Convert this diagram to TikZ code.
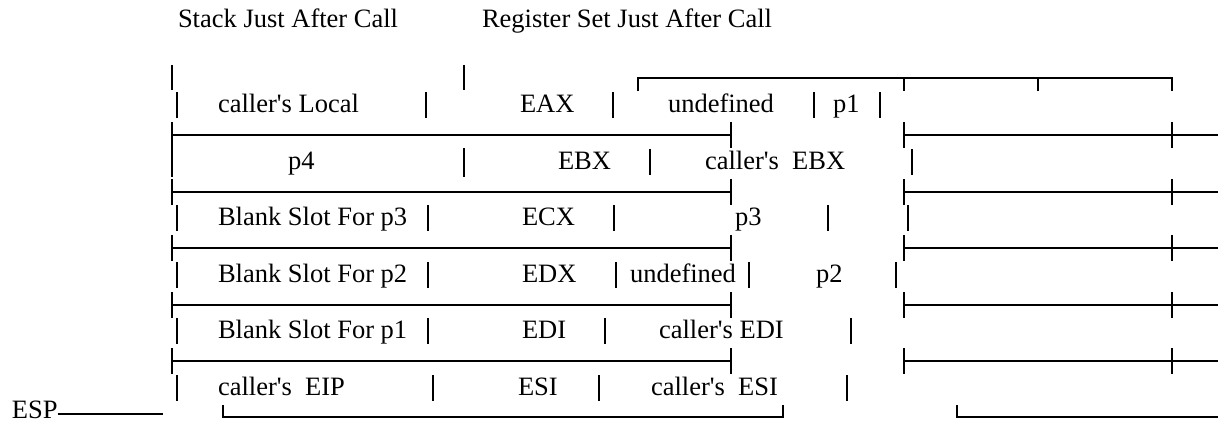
\documentclass[tikz,border=0pt]{standalone}
\usepackage{fontspec}
\setmainfont{Liberation Serif}[Ligatures=TeXOff]
\tikzset{
  txt/.style={anchor=base west, inner sep=0pt, outer sep=0pt, font=\fontsize{26.5}{30}\selectfont, text=black},
  rule/.style={line width=1.3pt, black},
  barl/.style={line width=1.3pt, black},
}
\newcommand\vb[2]{\draw[barl] (#1,{#2-20}) -- (#1,{#2+6});}
\newcommand\hl[1]{%
  \draw[rule] (172,#1) -- (731,#1);
  \draw[rule] (172,{#1-13}) -- (172,{#1+13});
  \draw[rule] (731,{#1-13}) -- (731,{#1+13});
  \draw[rule] (904,#1) -- (1218,#1);
  \draw[rule] (904,{#1-13}) -- (904,{#1+13});
  \draw[rule] (1172,{#1-13}) -- (1172,{#1+13});
}
\begin{document}
\begin{tikzpicture}[x=1pt,y=-1pt]
\useasboundingbox[fill=white] (0,0) rectangle (1218,428);
% titles
\node[txt] (t1) at (178,28) {Stack Just After Call};
\node[txt] (t2) at (482,28) {Register Set Just After Call};
% top bars and top bracket
\draw[barl] (172,65) -- (172,90);
\draw[barl] (464,65) -- (464,90);
\draw[rule] (638,91) -- (638,78) -- (1172,78) -- (1172,91);
\draw[rule] (904,78) -- (904,91);
\draw[rule] (1038,78) -- (1038,91);
% row 1
\vb{177}{112}
\node[txt] (r1a) at (218,112) {caller's Local};
\vb{426}{112}
\node[txt] (r1b) at (520,112) {EAX};
\vb{613}{112}
\node[txt] (r1c) at (668,112) {undefined};
\vb{814}{112}
\node[txt] (r1d) at (833,112) {p1};
\vb{880}{112}
\hl{135}
% row 2
\draw[barl] (172,148) -- (172,177);
\node[txt] (r2a) at (288,169) {p4};
\draw[barl] (464,148) -- (464,177);
\node[txt] (r2b) at (558,169) {EBX};
\vb{650}{169}
\node[txt] (r2c) at (705,169) {caller's~~EBX};
\vb{912}{169}
\hl{192}
% row 3
\vb{177}{225}
\node[txt] (r3a) at (218,225) {Blank Slot For p3};
\vb{428}{225}
\node[txt] (r3b) at (522,225) {ECX};
\vb{614}{225}
\node[txt] (r3c) at (735,225) {p3};
\vb{828}{225}
\vb{908}{225}
\hl{248}
% row 4
\vb{177}{282}
\node[txt] (r4a) at (218,282) {Blank Slot For p2};
\vb{428}{282}
\node[txt] (r4b) at (522,282) {EDX};
\vb{616}{282}
\node[txt] (r4c) at (630,282) {undefined};
\vb{749}{282}
\node[txt] (r4d) at (816,282) {p2};
\vb{896}{282}
\hl{305}
% row 5
\vb{177}{338}
\node[txt] (r5a) at (218,338) {Blank Slot For p1};
\vb{428}{338}
\node[txt] (r5b) at (522,338) {EDI};
\vb{605}{338}
\node[txt] (r5c) at (659,338) {caller's EDI};
\vb{851}{338}
\hl{361}
% row 6
\vb{177}{395}
\node[txt] (r6a) at (218,395) {caller's~~EIP};
\vb{433}{395}
\node[txt] (r6b) at (518,395) {ESI};
\vb{599}{395}
\node[txt] (r6c) at (651,395) {caller's~~ESI};
\vb{847}{395}
% bottom
\node[txt] (esp) at (12,418) {ESP};
\coordinate (espend) at (163,414);
\draw[rule] (esp.base east |- espend) -- (espend);
\draw[rule] (223,405) -- (223,417) -- (783,417) -- (783,405);
\draw[rule] (957,405) -- (957,417) -- (1218,417);
\end{tikzpicture}
\end{document}
